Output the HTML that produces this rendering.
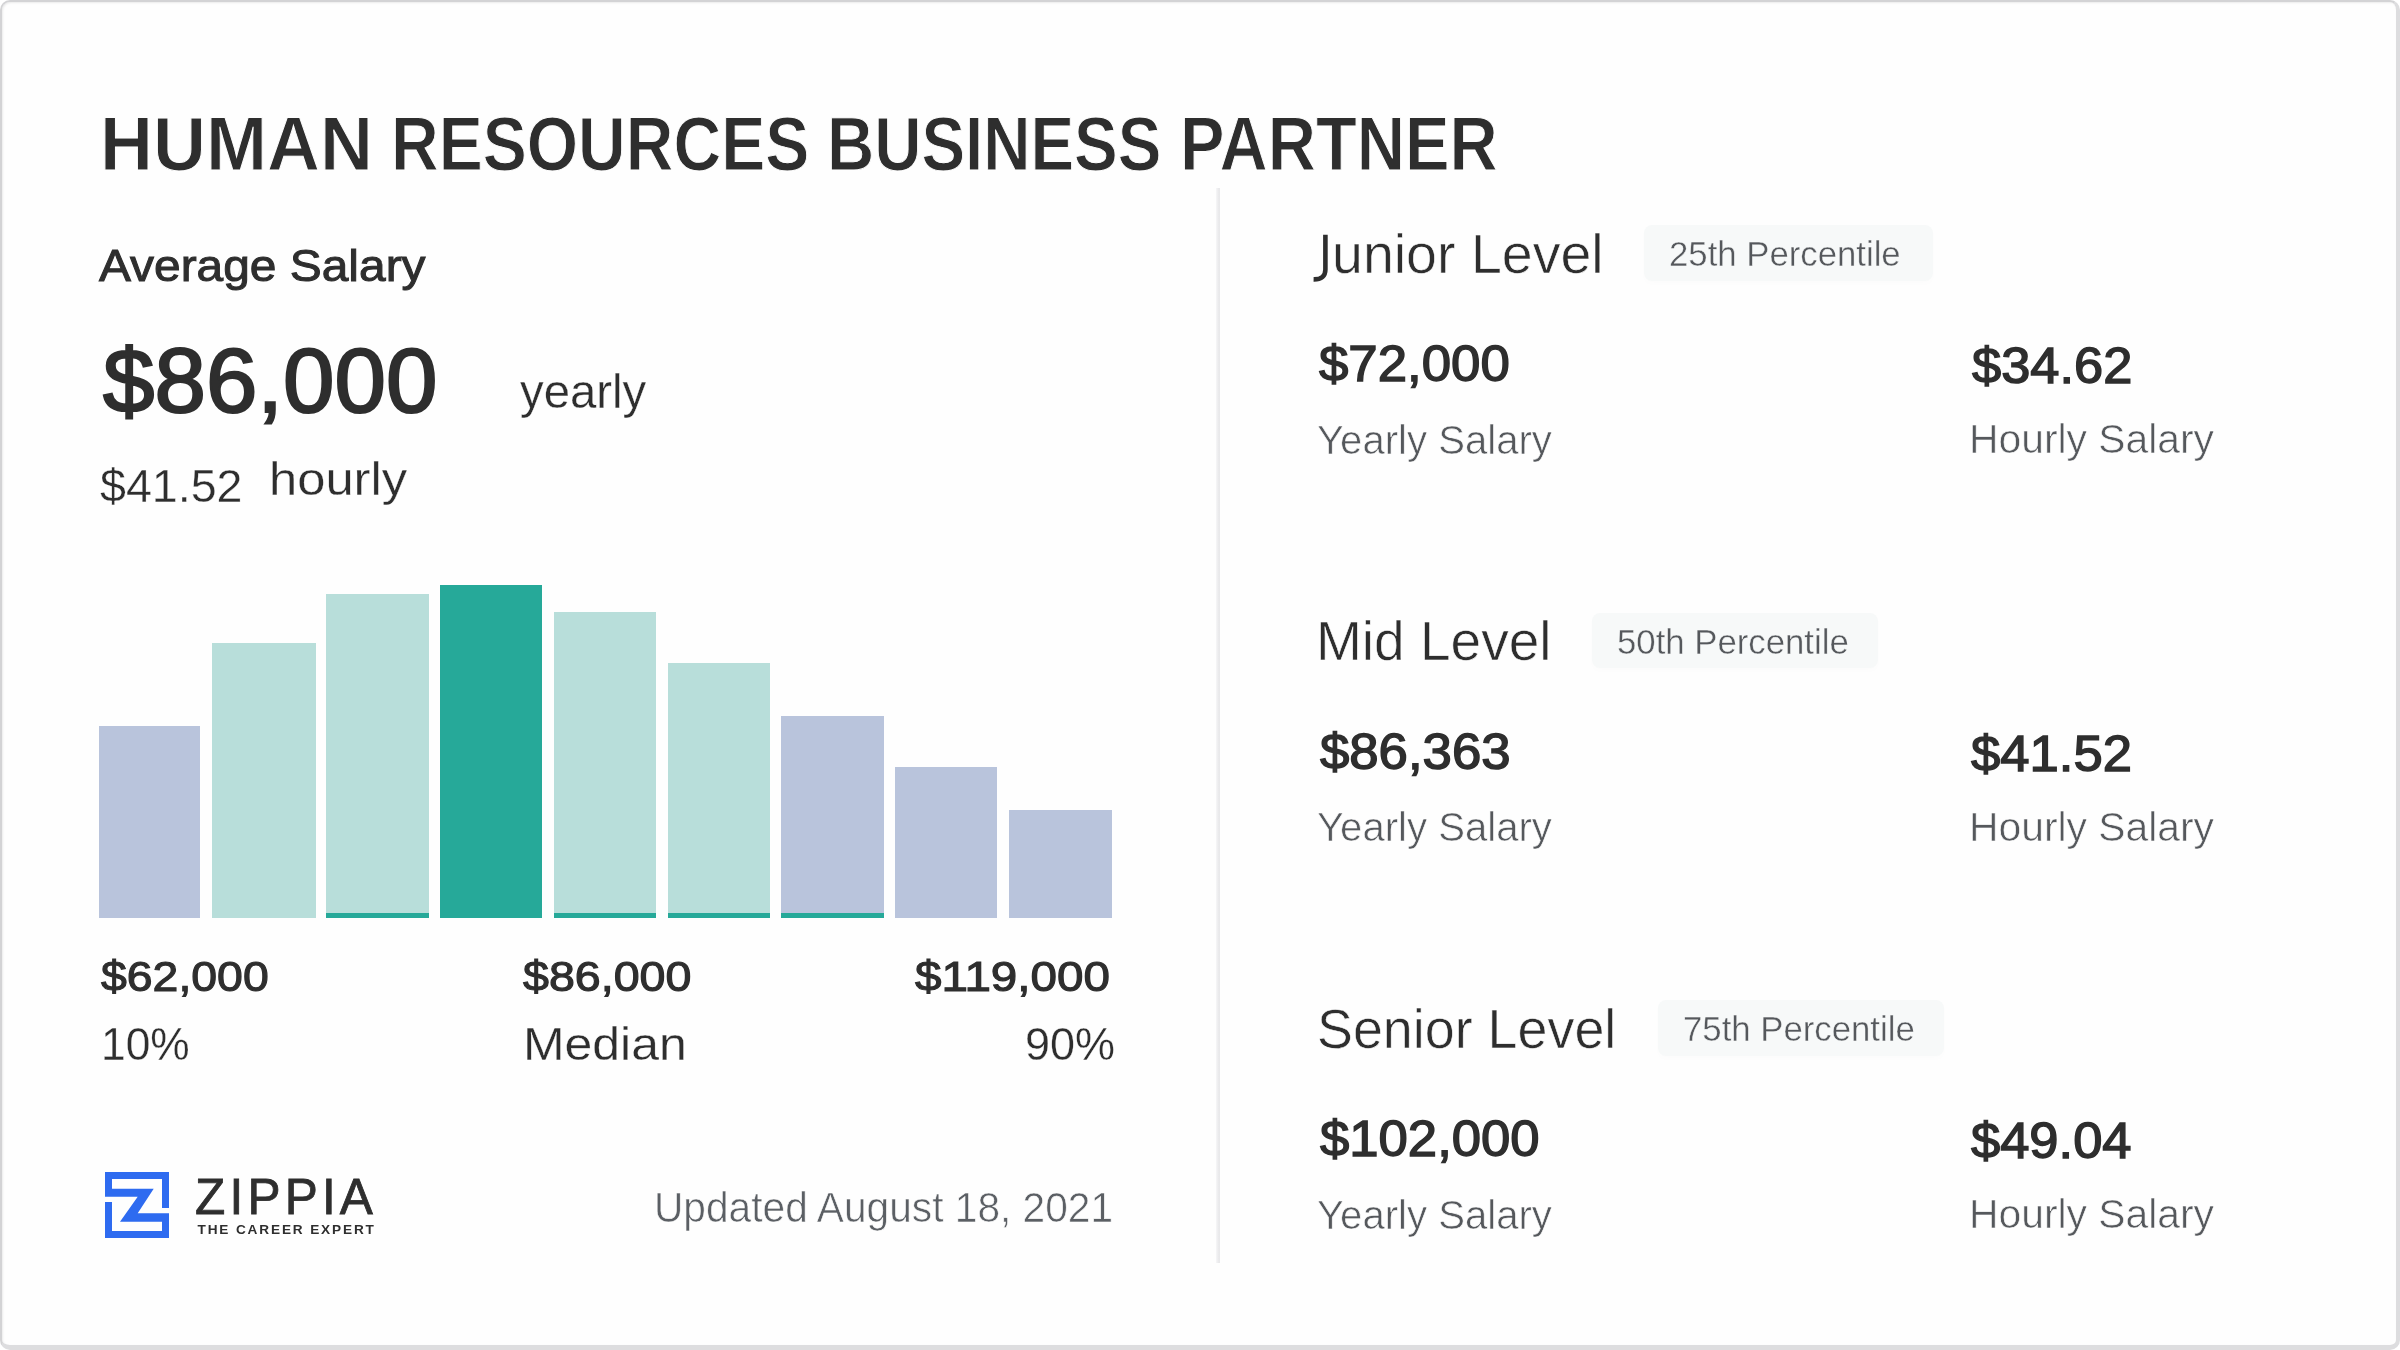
<!DOCTYPE html>
<html><head><meta charset="utf-8"><title>Human Resources Business Partner Salary</title>
<style>
html,body{margin:0;padding:0;}
body{width:2400px;height:1350px;position:relative;overflow:hidden;background:#fff;font-family:"Liberation Sans",sans-serif;}
.card{position:absolute;left:0;top:0;width:2400px;height:1350px;box-sizing:border-box;background:#fefefe;border-radius:10px;border-style:solid;border-color:#d3d3d5 #dddddf #dddddf #d3d3d5;border-width:2px 4px 5px 2px;box-shadow:inset 1px 1px 2px rgba(0,0,0,0.08);}
.t{position:absolute;white-space:nowrap;line-height:1;transform-origin:0 0;}
.bar{position:absolute;}
.badge{position:absolute;background:#f7f9f9;border-radius:8px;box-shadow:0 3px 6px rgba(0,0,0,0.012);}
.divider{position:absolute;left:1216px;top:188px;width:4px;height:1075px;background:linear-gradient(to right,#f7f7f8,#ebebed 55%,#e8e8ea);}
.texts{position:absolute;left:0;top:0;width:2400px;height:1350px;will-change:transform;}
</style></head>
<body>
<div class="card"></div>
<div class="divider"></div>
<div class="bar" style="left:98.7px;top:726.0px;width:101.6px;height:192.0px;background:#b9c4dc"></div>
<div class="bar" style="left:212.0px;top:642.5px;width:104.0px;height:275.5px;background:#b8deda"></div>
<div class="bar" style="left:326.0px;top:594.0px;width:102.8px;height:324.0px;background:#b8deda"></div>
<div class="bar" style="left:326.0px;top:913.0px;width:102.8px;height:5px;background:#26a999"></div>
<div class="bar" style="left:440.0px;top:584.7px;width:102.0px;height:333.3px;background:#26a999"></div>
<div class="bar" style="left:554.0px;top:612.0px;width:102.0px;height:306.0px;background:#b8deda"></div>
<div class="bar" style="left:554.0px;top:913.0px;width:102.0px;height:5px;background:#26a999"></div>
<div class="bar" style="left:668.0px;top:662.5px;width:102.0px;height:255.5px;background:#b8deda"></div>
<div class="bar" style="left:668.0px;top:913.0px;width:102.0px;height:5px;background:#26a999"></div>
<div class="bar" style="left:781.3px;top:716.0px;width:102.7px;height:202.0px;background:#b9c4dc"></div>
<div class="bar" style="left:781.3px;top:913.0px;width:102.7px;height:5px;background:#26a999"></div>
<div class="bar" style="left:894.7px;top:767.3px;width:102.6px;height:150.7px;background:#b9c4dc"></div>
<div class="bar" style="left:1009.3px;top:810.0px;width:102.7px;height:108.0px;background:#b9c4dc"></div>

<div class="badge" style="left:1644px;top:225px;width:288.5px;height:55.5px"></div>
<div class="badge" style="left:1592.4px;top:612.5px;width:285.2px;height:55.5px"></div>
<div class="badge" style="left:1657.5px;top:1000px;width:286.1px;height:55.5px"></div>

<svg class="logo" style="position:absolute;left:105px;top:1172px" width="64" height="66" viewBox="0 0 64 66">
<path fill="#2e6bf0" fill-rule="evenodd" d="M0 0H64V36H57V7H7V16.7H48.7L32.7 41.3H64V66H0V30H7V59H57V49.7H15L32.7 24.7H0Z"/>
</svg>
<svg style="position:absolute;left:1300px;top:220px" width="40" height="70" viewBox="1300 220 40 70"><path d="M1325.4 234.7V269.5Q1325.4 279.6 1313.6 279.4" fill="none" stroke="#2e2e2e" stroke-width="4.6"/></svg>
<div class="texts">
<span class="t" style="font-size:75.36px;font-weight:bold;color:#2e2e2e;-webkit-text-stroke:1.0px #fefefe;left:99.65px;top:107px;transform:scaleX(0.9729);">HUMAN</span>
<span class="t" style="font-size:75.36px;font-weight:bold;color:#2e2e2e;-webkit-text-stroke:1.0px #fefefe;left:391.18px;top:107px;transform:scaleX(0.8761);">RESOURCES</span>
<span class="t" style="font-size:75.36px;font-weight:bold;color:#2e2e2e;-webkit-text-stroke:1.0px #fefefe;left:826.93px;top:107px;transform:scaleX(0.8678);">BUSINESS</span>
<span class="t" style="font-size:75.36px;font-weight:bold;color:#2e2e2e;-webkit-text-stroke:1.0px #fefefe;left:1180.13px;top:107px;transform:scaleX(0.8860);">PARTNER</span>
<span class="t" style="font-size:44.93px;font-weight:normal;color:#2e2e2e;-webkit-text-stroke:1.0px #2e2e2e;left:99.28px;top:244px;transform:scaleX(1.0660);">Average Salary</span>
<span class="t" style="font-size:90.21px;font-weight:normal;color:#2e2e2e;-webkit-text-stroke:2.2px #2e2e2e;left:102.60px;top:336px;transform:scaleX(1.0256);">$86,000</span>
<span class="t" style="font-size:48.69px;font-weight:normal;color:#2e2e2e;-webkit-text-stroke:0.3px #fefefe;left:519.85px;top:367px;transform:scaleX(0.9715);">yearly</span>
<span class="t" style="font-size:45.49px;font-weight:normal;color:#2e2e2e;-webkit-text-stroke:0.3px #fefefe;left:99.82px;top:464px;transform:scaleX(1.0243);">$41.52</span>
<span class="t" style="font-size:46.84px;font-weight:normal;color:#2e2e2e;-webkit-text-stroke:0.3px #fefefe;left:269.09px;top:456px;transform:scaleX(1.0826);">hourly</span>
<span class="t" style="font-size:42.11px;font-weight:normal;color:#2e2e2e;-webkit-text-stroke:1.1px #2e2e2e;left:100.50px;top:956px;transform:scaleX(1.1019);">$62,000</span>
<span class="t" style="font-size:45.33px;font-weight:normal;color:#2e2e2e;-webkit-text-stroke:0.3px #fefefe;left:100.67px;top:1022px;transform:scaleX(0.9772);">10%</span>
<span class="t" style="font-size:42.11px;font-weight:normal;color:#2e2e2e;-webkit-text-stroke:1.1px #2e2e2e;left:523.00px;top:956px;transform:scaleX(1.1066);">$86,000</span>
<span class="t" style="font-size:45.80px;font-weight:normal;color:#2e2e2e;-webkit-text-stroke:0.3px #fefefe;left:523.48px;top:1022px;transform:scaleX(1.0897);">Median</span>
<span class="t" style="font-size:42.11px;font-weight:normal;color:#2e2e2e;-webkit-text-stroke:1.1px #2e2e2e;left:915.49px;top:956px;transform:scaleX(1.1297);">$119,000</span>
<span class="t" style="font-size:45.33px;font-weight:normal;color:#2e2e2e;-webkit-text-stroke:0.3px #fefefe;left:1024.56px;top:1022px;transform:scaleX(0.9931);">90%</span>
<span class="t" style="font-size:42.32px;font-weight:normal;color:#5b5f64;-webkit-text-stroke:0.6px #fefefe;left:653.53px;top:1187px;transform:scaleX(0.9613);">Updated August 18, 2021</span>
<span class="t" style="font-size:49.57px;font-weight:normal;color:#2e2e2e;-webkit-text-stroke:0.8px #2e2e2e;left:195.10px;top:1173px;letter-spacing:4.160px;">ZIPPIA</span>
<span class="t" style="font-size:13.62px;font-weight:bold;color:#2e2e2e;left:197.50px;top:1223px;letter-spacing:1.856px;">THE CAREER EXPERT</span>
<span class="t" style="font-size:55.51px;font-weight:normal;color:#2e2e2e;-webkit-text-stroke:0.6px #fefefe;left:1332.00px;top:227px;transform:scaleX(1.0004);">unior Level</span>
<span class="t" style="font-size:34.49px;font-weight:normal;color:#55585c;-webkit-text-stroke:0.4px #f7f9f9;left:1669.08px;top:237px;transform:scaleX(1.0071);">25th Percentile</span>
<span class="t" style="font-size:49.35px;font-weight:normal;color:#2e2e2e;-webkit-text-stroke:1.4px #2e2e2e;left:1319.48px;top:339px;transform:scaleX(1.0699);">$72,000</span>
<span class="t" style="font-size:40.72px;font-weight:normal;color:#55585c;-webkit-text-stroke:0.6px #fefefe;left:1317.42px;top:420px;transform:scaleX(0.9852);">Yearly Salary</span>
<span class="t" style="font-size:49.14px;font-weight:normal;color:#2e2e2e;-webkit-text-stroke:1.4px #2e2e2e;left:1971.58px;top:342px;transform:scaleX(1.0667);">$34.62</span>
<span class="t" style="font-size:40.72px;font-weight:normal;color:#55585c;-webkit-text-stroke:0.6px #fefefe;left:1969.19px;top:419px;transform:scaleX(1.0025);">Hourly Salary</span>
<span class="t" style="font-size:55.51px;font-weight:normal;color:#2e2e2e;-webkit-text-stroke:0.6px #fefefe;left:1316.24px;top:614px;transform:scaleX(0.9917);">Mid Level</span>
<span class="t" style="font-size:34.49px;font-weight:normal;color:#55585c;-webkit-text-stroke:0.4px #f7f9f9;left:1616.78px;top:625px;transform:scaleX(1.0075);">50th Percentile</span>
<span class="t" style="font-size:49.35px;font-weight:normal;color:#2e2e2e;-webkit-text-stroke:1.4px #2e2e2e;left:1320.28px;top:727px;transform:scaleX(1.0680);">$86,363</span>
<span class="t" style="font-size:40.72px;font-weight:normal;color:#55585c;-webkit-text-stroke:0.6px #fefefe;left:1317.42px;top:807px;transform:scaleX(0.9852);">Yearly Salary</span>
<span class="t" style="font-size:49.14px;font-weight:normal;color:#2e2e2e;-webkit-text-stroke:1.4px #2e2e2e;left:1971.08px;top:730px;transform:scaleX(1.0708);">$41.52</span>
<span class="t" style="font-size:40.72px;font-weight:normal;color:#55585c;-webkit-text-stroke:0.6px #fefefe;left:1969.19px;top:807px;transform:scaleX(1.0025);">Hourly Salary</span>
<span class="t" style="font-size:55.51px;font-weight:normal;color:#2e2e2e;-webkit-text-stroke:0.6px #fefefe;left:1316.60px;top:1002px;transform:scaleX(0.9701);">Senior Level</span>
<span class="t" style="font-size:34.49px;font-weight:normal;color:#55585c;-webkit-text-stroke:0.4px #f7f9f9;left:1682.78px;top:1012px;transform:scaleX(1.0075);">75th Percentile</span>
<span class="t" style="font-size:49.35px;font-weight:normal;color:#2e2e2e;-webkit-text-stroke:1.4px #2e2e2e;left:1320.28px;top:1114px;transform:scaleX(1.0670);">$102,000</span>
<span class="t" style="font-size:40.72px;font-weight:normal;color:#55585c;-webkit-text-stroke:0.6px #fefefe;left:1317.42px;top:1195px;transform:scaleX(0.9852);">Yearly Salary</span>
<span class="t" style="font-size:49.14px;font-weight:normal;color:#2e2e2e;-webkit-text-stroke:1.4px #2e2e2e;left:1971.08px;top:1117px;transform:scaleX(1.0683);">$49.04</span>
<span class="t" style="font-size:40.72px;font-weight:normal;color:#55585c;-webkit-text-stroke:0.6px #fefefe;left:1969.19px;top:1194px;transform:scaleX(1.0025);">Hourly Salary</span>
</div>
</body></html>
